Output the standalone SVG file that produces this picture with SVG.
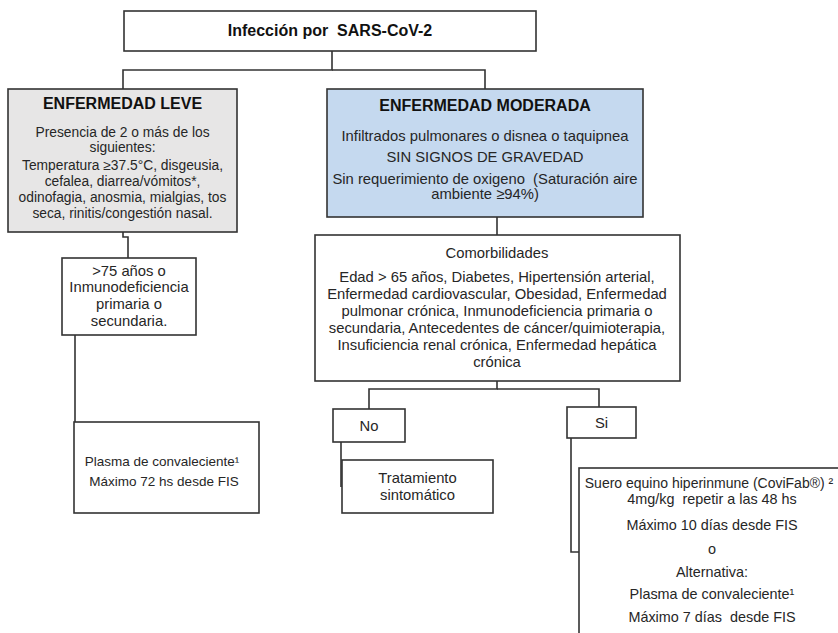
<svg xmlns="http://www.w3.org/2000/svg" width="838" height="633" viewBox="0 0 838 633">
<style>
.box{stroke:#333;stroke-width:1.6;fill:#fff}
.leve{fill:#e7e6e6}
.mod{fill:#c5d9ef}
.t{font-family:"Liberation Sans",Arial,sans-serif;font-size:14.8px;fill:#262626;text-anchor:middle}
.s{font-size:13.8px}
.p{font-size:13.5px}
.m{font-size:14.4px}
.b{font-weight:bold;font-size:16px;fill:#111}
.c{fill:none;stroke:#333;stroke-width:1.6}
</style>
<rect width="838" height="633" fill="#fff"/>
<g id="connectors" class="c">
<path d="M332 51V70H123V89"/>
<path d="M332 70H485V89"/>
<path d="M123 232V237H128V258"/>
<path d="M75 335V422"/>
<path d="M497 217V235"/>
<path d="M497 381V389H369V409"/>
<path d="M497 389H599V407"/>
<path d="M341 442V487"/>
<path d="M571 438V552H579"/>
</g>
<g id="n-root"><rect class="box" x="124" y="11" width="412" height="40"/>
<text class="t b" x="330" y="36">Infección por &#160;SARS-CoV-2</text></g>
<g id="n-leve"><rect class="box leve" x="8" y="89" width="229" height="143"/>
<text class="t b" x="122.5" y="109">ENFERMEDAD LEVE</text>
<text class="t s" x="122.5" y="137">Presencia de 2 o más de los</text>
<text class="t s" x="122.5" y="152">siguientes:</text>
<text class="t s" x="122.5" y="170">Temperatura ≥37.5°C, disgeusia,</text>
<text class="t s" x="122.5" y="186">cefalea, diarrea/vómitos*,</text>
<text class="t s" x="122.5" y="202">odinofagia, anosmia, mialgias, tos</text>
<text class="t s" x="122.5" y="218">seca, rinitis/congestión nasal.</text></g>
<g id="n-moderada"><rect class="box mod" x="327" y="89" width="316" height="128"/>
<text class="t b" x="485" y="111">ENFERMEDAD MODERADA</text>
<text class="t" x="485" y="141">Infiltrados pulmonares o disnea o taquipnea</text>
<text class="t" x="485" y="162">SIN SIGNOS DE GRAVEDAD</text>
<text class="t" x="485" y="184">Sin requerimiento de oxigeno &#160;(Saturación aire</text>
<text class="t" x="485" y="199">ambiente ≥94%)</text></g>
<g id="n-mayor75"><rect class="box" x="62" y="258" width="134" height="77"/>
<text class="t" x="129" y="276">&gt;75 años o</text>
<text class="t" x="129" y="292">Inmunodeficiencia</text>
<text class="t" x="129" y="309">primaria o</text>
<text class="t" x="129" y="326">secundaria.</text></g>
<g id="n-plasma72"><rect class="box" x="74" y="422" width="185" height="91"/>
<text class="t p" x="162" y="466">Plasma de convaleciente¹</text>
<text class="t p" x="164" y="486">Máximo 72 hs desde FIS</text></g>
<g id="n-comorb"><rect class="box" x="315" y="235" width="365" height="146"/>
<text class="t" x="497" y="258">Comorbilidades</text>
<text class="t" x="497" y="282">Edad &gt; 65 años, Diabetes, Hipertensión arterial,</text>
<text class="t" x="497" y="299">Enfermedad cardiovascular, Obesidad, Enfermedad</text>
<text class="t" x="497" y="316">pulmonar crónica, Inmunodeficiencia primaria o</text>
<text class="t" x="497" y="333">secundaria, Antecedentes de cáncer/quimioterapia,</text>
<text class="t" x="497" y="350">Insuficiencia renal crónica, Enfermedad hepática</text>
<text class="t" x="497" y="367">crónica</text></g>
<g id="n-no"><rect class="box" x="333" y="409" width="72" height="33"/>
<text class="t" x="369" y="431">No</text></g>
<g id="n-trat"><rect class="box" x="342" y="460" width="151" height="53"/>
<text class="t" x="417.5" y="483">Tratamiento</text>
<text class="t" x="417.5" y="500">sintomático</text></g>
<g id="n-si"><rect class="box" x="567" y="407" width="69" height="31"/>
<text class="t" x="601.5" y="428">Si</text></g>
<g id="n-suero"><rect class="box" x="579" y="468" width="300" height="200"/>
<text class="t m" x="709" y="488" style="font-size:14px">Suero equino hiperinmune (CoviFab®) ²</text>
<text class="t m" x="712" y="504">4mg/kg &#160;repetir a las 48 hs</text>
<text class="t m" x="712" y="530">Máximo 10 días desde FIS</text>
<text class="t m" x="712" y="554">o</text>
<text class="t m" x="712" y="577">Alternativa:</text>
<text class="t m" x="712" y="599">Plasma de convaleciente¹</text>
<text class="t m" x="712" y="622">Máximo 7 días &#160;desde FIS</text></g>
</svg>
